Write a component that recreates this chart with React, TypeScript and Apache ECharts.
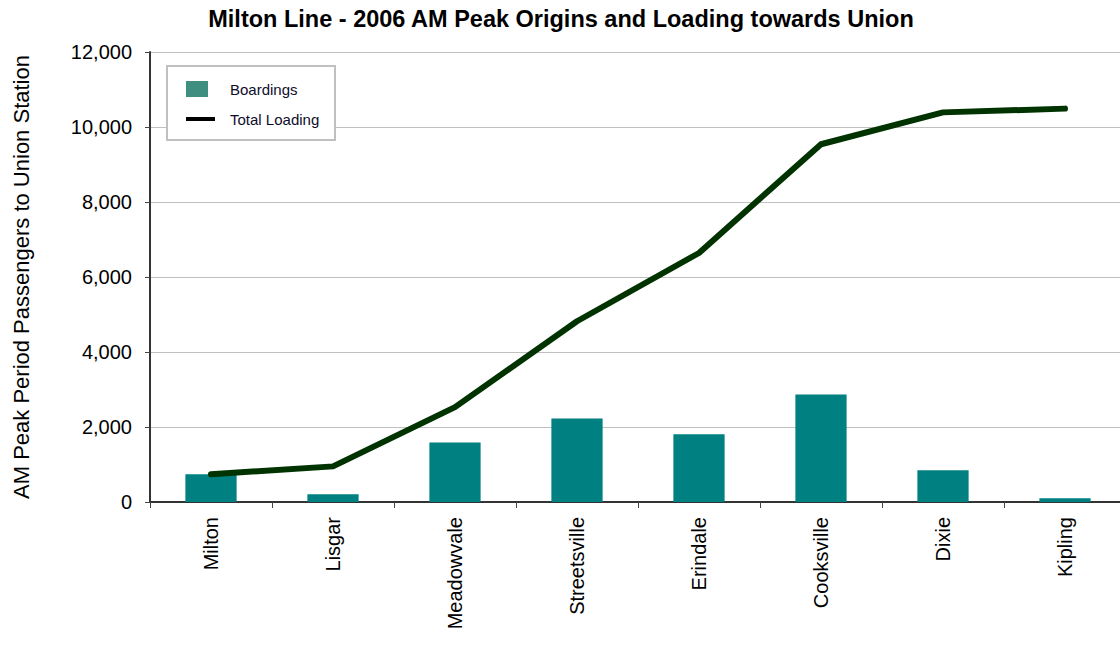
import React, { useEffect, useRef } from "react";
import * as echarts from "echarts";

const stations = ["Milton", "Lisgar", "Meadowvale", "Streetsville", "Erindale", "Cooksville", "Dixie", "Kipling"];
const boardings = [740, 205, 1590, 2230, 1805, 2870, 845, 100];
const totalLoading = [740, 950, 2530, 4820, 6640, 9540, 10390, 10490];
const yTicks = { min: 0, max: 12000, interval: 2000 };

const FONT = "Arial, 'Liberation Sans', sans-serif";

export default function App() {
  const ref = useRef<HTMLDivElement>(null);
  useEffect(() => {
    document.body.style.margin = "0";
    const chart = echarts.init(ref.current!, null, { renderer: "svg" });
    chart.setOption({
      animation: false,
      backgroundColor: "#ffffff",
      title: {
        text: "Milton Line - 2006 AM Peak Origins and Loading towards Union",
        left: 556,
        textAlign: "center",
        top: 2,
        textStyle: { fontFamily: FONT, fontSize: 23.5, fontWeight: "bold", color: "#000" },
      },
      legend: { show: false },
      grid: { left: 150, top: 52, right: 4, bottom: 143 },
      xAxis: {
        type: "category",
        data: stations,
        boundaryGap: true,
        axisLine: { lineStyle: { color: "#333", width: 2 } },
        axisTick: { show: true, length: 6, lineStyle: { color: "#444", width: 1 } },
        axisLabel: { rotate: 90, margin: 15, fontFamily: FONT, fontSize: 20, color: "#000", interval: 0 },
      },
      yAxis: {
        type: "value",
        min: yTicks.min,
        max: yTicks.max,
        interval: yTicks.interval,
        name: "AM Peak Period Passengers to Union Station",
        nameLocation: "middle",
        nameRotate: 90,
        nameGap: 118,
        nameTextStyle: { fontFamily: FONT, fontSize: 22, color: "#000" },
        axisLine: { show: true, lineStyle: { color: "#333", width: 2 } },
        axisTick: { show: true, length: 5, lineStyle: { color: "#444", width: 1 } },
        axisLabel: {
          margin: 18,
          fontFamily: FONT,
          fontSize: 20,
          color: "#000",
          formatter: (v: number) => v.toLocaleString("en-US"),
        },
        splitLine: { show: true, lineStyle: { color: "#c0c0c0", width: 1 } },
      },
      series: [
        {
          name: "Boardings",
          type: "bar",
          data: boardings,
          barWidth: "42%",
          itemStyle: { color: "#008080" },
          z: 2,
        },
        {
          name: "Total Loading",
          type: "line",
          data: totalLoading,
          symbol: "none",
          lineStyle: { color: "#003300", width: 6, cap: "round", join: "round" },
          z: 3,
        },
      ],
      graphic: [
        {
          type: "rect",
          shape: { x: 167, y: 66, width: 168, height: 74 },
          style: { fill: "#ffffff", stroke: "#c0c0c0", lineWidth: 2 },
          z: 10,
        },
        {
          type: "rect",
          shape: { x: 186, y: 81, width: 22, height: 16 },
          style: { fill: "#3f8f80" },
          z: 11,
        },
        {
          type: "line",
          shape: { x1: 186, y1: 119, x2: 215, y2: 119 },
          style: { stroke: "#000000", lineWidth: 4 },
          z: 11,
        },
        {
          type: "text",
          x: 230,
          y: 89,
          style: { text: "Boardings", fontFamily: FONT, fontSize: 15, fill: "#0d0d2b", verticalAlign: "middle" },
          z: 11,
        },
        {
          type: "text",
          x: 230,
          y: 119,
          style: { text: "Total Loading", fontFamily: FONT, fontSize: 15, fill: "#0d0d2b", verticalAlign: "middle" },
          z: 11,
        },
      ],
    });
    return () => chart.dispose();
  }, []);
  return (
    <div style={{ width: 1120, height: 645, overflow: "hidden" }}>
      <div ref={ref} style={{ width: 1130, height: 645 }} />
    </div>
  );
}
